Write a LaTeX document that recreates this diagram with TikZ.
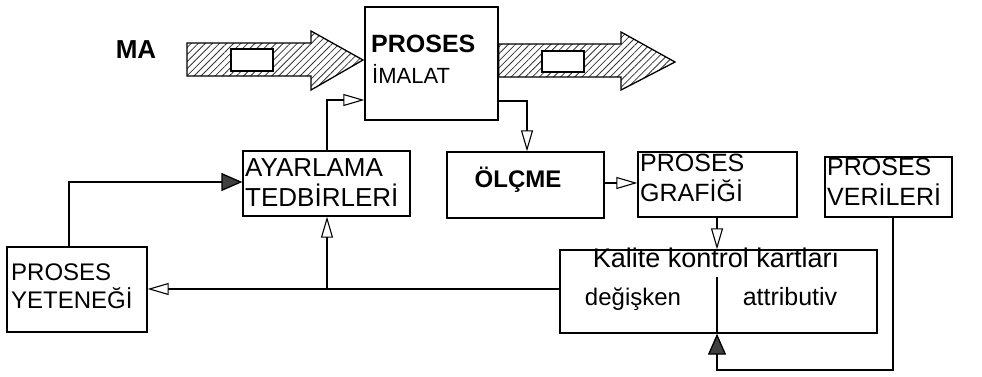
\documentclass[tikz,border=0pt]{standalone}
\usepackage{fontspec}
\setmainfont{Liberation Sans}
\usetikzlibrary{arrows.meta,patterns.meta}
\begin{document}
\begin{tikzpicture}[x=1pt,y=-1pt,
  box/.style={draw, line width=1.3pt, rectangle, inner sep=0pt},
  txt/.style={inner sep=0pt, text height=0.716em, text depth=0pt},
  conn/.style={line width=1.3pt},
  openhead/.style={-{Triangle[open, length=21pt, width=12pt, line width=1.1pt]}},
  fillhead/.style={-{Triangle[length=21pt, width=18pt, fill=black!75]}},
  hatch/.style={draw, line width=1.3pt, pattern={Lines[angle=45, distance=5pt, line width=0.8pt]}, pattern color=black!80},
]
\useasboundingbox (0,0) rectangle (982,376);

% boxes
\node[box, minimum width=133pt, minimum height=113pt] (imalat) at (431.5,63.5) {};
\node[box, minimum width=167pt, minimum height=65pt] (ayar) at (326.5,183.5) {};
\node[box, minimum width=157pt, minimum height=66pt] (olcme) at (525.5,185) {};
\node[box, minimum width=159pt, minimum height=65pt] (grafik) at (717.5,184.5) {};
\node[box, line width=2.2pt, minimum width=127pt, minimum height=60pt] (veri) at (888.5,187) {};
\node[box, minimum width=140pt, minimum height=85pt] (yeten) at (77,289.5) {};
\node[box, minimum width=317pt, minimum height=83pt] (kalite) at (718.5,291.5) {};

% texts
\node[txt, font=\fontsize{26}{30}\selectfont\bfseries] (ma) at (136,55) {MA};
\node[txt, anchor=west, font=\fontsize{25}{30}\selectfont\bfseries] (imalat1) at (371,49) {PROSES};
\node[txt, anchor=west, font=\fontsize{22}{26}\selectfont] (imalat2) at (372,80) {İMALAT};
\node[txt, anchor=west, font=\fontsize{26}{30}\selectfont] (ayar1) at (245,173) {AYARLAMA};
\node[txt, anchor=west, font=\fontsize{26}{30}\selectfont] (ayar2) at (245,203) {TEDBİRLERİ};
\node[txt, font=\fontsize{24}{28}\selectfont\bfseries] (olcme1) at (518,184) {ÖLÇME};
\node[txt, anchor=west, font=\fontsize{25}{30}\selectfont] (grafik1) at (640,168) {PROSES};
\node[txt, anchor=west, font=\fontsize{25}{30}\selectfont] (grafik2) at (640,198) {GRAFİĞİ};
\node[txt, anchor=west, font=\fontsize{25}{30}\selectfont] (veri1) at (827,172) {PROSES};
\node[txt, anchor=west, font=\fontsize{25}{30}\selectfont] (veri2) at (827,202) {VERİLERİ};
\node[txt, anchor=west, font=\fontsize{24}{28}\selectfont] (yeten1) at (11,277) {PROSES};
\node[txt, anchor=west, font=\fontsize{24}{28}\selectfont] (yeten2) at (11,305) {YETENEĞİ};
\node[txt, font=\fontsize{27}{32}\selectfont] (kalite1) at (716,264) {Kalite kontrol kartları};
\node[txt, font=\fontsize{24}{28}\selectfont] (kalite2) at (633,302) {değişken};
\node[txt, font=\fontsize{25}{30}\selectfont] (kalite3) at (790,302) {attributiv};

% big hatched arrows
\draw[hatch] (187,43) -- (311,43) -- (311,31) -- (363,60) -- (311,90) -- (311,76) -- (187,76) -- cycle;
\draw[line width=1.3pt, fill=white] (231,49) rectangle (273,71);
\draw[hatch] (imalat.east |- 0,44) -- (621,44) -- (621,32) -- (675,62) -- (621,90) -- (621,77) -- (imalat.east |- 0,77) -- cycle;
\draw[line width=1.3pt, fill=white] (542,51) rectangle (584,72);

% coordinates
\coordinate (c1) at (527,101);
\coordinate (c2) at (327,100);
\coordinate (c3) at (327,289);
\coordinate (c4) at (69,182);
\coordinate (c5) at (893,370);
\coordinate (c6) at (717,370);
\coordinate (c7) at (717,277);

% connectors
\draw[conn, openhead] (imalat.east |- c1) -- (c1) -- (c1 |- olcme.north);
\draw[conn, openhead] (c2 |- ayar.north) -- (c2) -- (imalat.west |- c2);
\draw[conn, openhead] (kalite.west |- c3) -- (yeten.east |- c3);
\draw[conn, openhead] (c3) -- (c3 |- ayar.south);
\draw[conn, fillhead] (c4 |- yeten.north) -- (c4) -- (ayar.west |- c4);
\draw[conn, openhead] (olcme.east |- 0,183) -- (grafik.west |- 0,183);
\draw[conn, openhead] (c7 |- grafik.south) -- (c7 |- kalite.north);
\draw[conn, fillhead] (c5 |- veri.south) -- (c5) -- (c6) -- (c6 |- kalite.south);
\draw[conn] (c7) -- (c7 |- kalite.south);
\end{tikzpicture}
\end{document}
